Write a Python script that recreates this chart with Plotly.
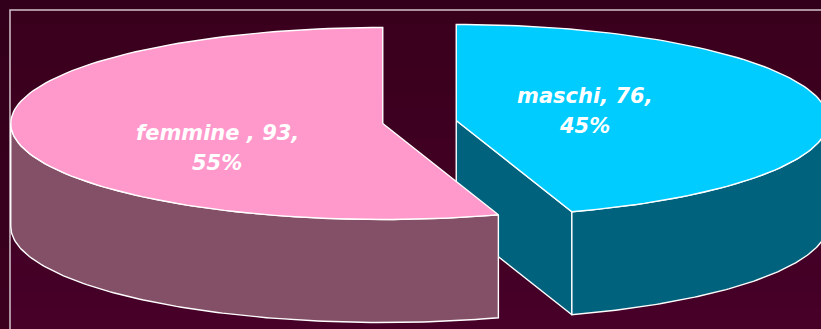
import numpy as np
import plotly.graph_objects as go

# ---- data ----
categories = ["maschi", "femmine "]
values = [76, 93]
top_colors = ["#00ccff", "#ff99cc"]
side_colors = ["#00627d", "#845068"]

# ---- geometry / style constants ----
W, H = 821, 329
CX, CY = 419.5, 122.0      # base centre of top face
A, B = 372.0, 96.0         # ellipse radii
DEPTH = 103.0              # pie thickness
EXPLODE = 0.1              # fraction of radius
LABEL_R = [0.35, 0.45]
LABEL_DY = [-4, 18]
LINE_GAP = 30
LINE = dict(color="white", width=1.4)

total = sum(values)
fracs = [v / total for v in values]
pcts = [round(f * 100) for f in fracs]

# slice angular spans (degrees clockwise from 12 o'clock)
spans = []
start = 0.0
for f in fracs:
    spans.append((start, start + f * 360.0))
    start += f * 360.0


def pt(c, th, z=0.0):
    t = np.radians(th)
    return c[0] + A * np.sin(t), c[1] - B * np.cos(t) + z


def arc(c, t0, t1, z=0.0, n=120):
    ts = np.linspace(t0, t1, n)
    xs, ys = zip(*[pt(c, t, z) for t in ts])
    return list(xs), list(ys)


fig = go.Figure()


def poly(xs, ys, color):
    fig.add_trace(go.Scatter(x=xs, y=ys, mode="lines", fill="toself",
                             fillcolor=color, line=LINE, hoverinfo="skip",
                             showlegend=False))


centres = []
for (t0, t1) in spans:
    mid = np.radians((t0 + t1) / 2)
    centres.append((CX + EXPLODE * A * np.sin(mid), CY - EXPLODE * B * np.cos(mid)))

for i, (t0, t1) in enumerate(spans):
    c = centres[i]
    # radial faces facing the viewer
    for th, sign in ((t0, -1), (t1, 1)):
        normal = th + sign * 90
        if np.cos(np.radians(normal)) < -1e-3:  # points toward the front
            x1, y1 = pt(c, th)
            poly([c[0], x1, x1, c[0], c[0]],
                 [c[1], y1, y1 + DEPTH, c[1] + DEPTH, c[1]], side_colors[i])
    # outer side (front half: 90..270)
    s0, s1 = max(t0, 90), min(t1, 270)
    if s1 > s0:
        xt, yt = arc(c, s0, s1)
        xb, yb = arc(c, s1, s0, DEPTH)
        poly(xt + xb + [xt[0]], yt + yb + [yt[0]], side_colors[i])
    # top face
    xa, ya = arc(c, t0, t1)
    poly([c[0]] + xa + [c[0]], [c[1]] + ya + [c[1]], top_colors[i])

# labels
FONT = dict(family="DejaVu Sans", size=21, color="white", weight="bold", style="italic")
for i, (t0, t1) in enumerate(spans):
    c = centres[i]
    mid = np.radians((t0 + t1) / 2)
    lx = c[0] + LABEL_R[i] * A * np.sin(mid)
    ly = c[1] - LABEL_R[i] * B * np.cos(mid) + LABEL_DY[i]
    lines = [f"{categories[i]}, {values[i]},", f"{pcts[i]}%"]
    for j, txt in enumerate(lines):
        fig.add_annotation(x=lx, y=ly + (j - 0.5) * LINE_GAP, xref="x", yref="y",
                           showarrow=False, text=txt, font=FONT)


def lerp(c0, c1, t):
    return "#%02x%02x%02x" % tuple(int(round(a + (b - a) * t)) for a, b in zip(c0, c1))


shapes = []
NB = 24
for k in range(NB):
    t = k / (NB - 1)
    y0, y1 = H * k / NB, H * (k + 1) / NB + 1
    shapes.append(dict(type="rect", xref="x", yref="y", x0=0, x1=W, y0=y0, y1=y1,
                       fillcolor=lerp((0x32, 0x00, 0x1a), (0x3c, 0x00, 0x1f), t),
                       line_width=0, layer="below"))
for k in range(NB):
    t = k / (NB - 1)
    y0 = 10 + (H + 20 - 10) * k / NB
    y1 = 10 + (H + 20 - 10) * (k + 1) / NB + 1
    shapes.append(dict(type="rect", xref="x", yref="y", x0=10, x1=W + 20, y0=y0, y1=y1,
                       fillcolor=lerp((0x39, 0x00, 0x1c), (0x48, 0x00, 0x29), t),
                       line_width=0, layer="below"))
shapes.append(dict(type="rect", xref="x", yref="y", x0=10, x1=W + 20, y0=10, y1=H + 20,
                   line=dict(color="#d2c2ca", width=1.5), fillcolor="rgba(0,0,0,0)",
                   layer="below"))

fig.update_layout(
    width=W, height=H, margin=dict(l=0, r=0, t=0, b=0),
    paper_bgcolor="#33001a", plot_bgcolor="#33001a",
    xaxis=dict(range=[0, W], visible=False, fixedrange=True),
    yaxis=dict(range=[H, 0], visible=False, fixedrange=True),
    shapes=shapes, showlegend=False,
)

fig.write_html("out.html")
